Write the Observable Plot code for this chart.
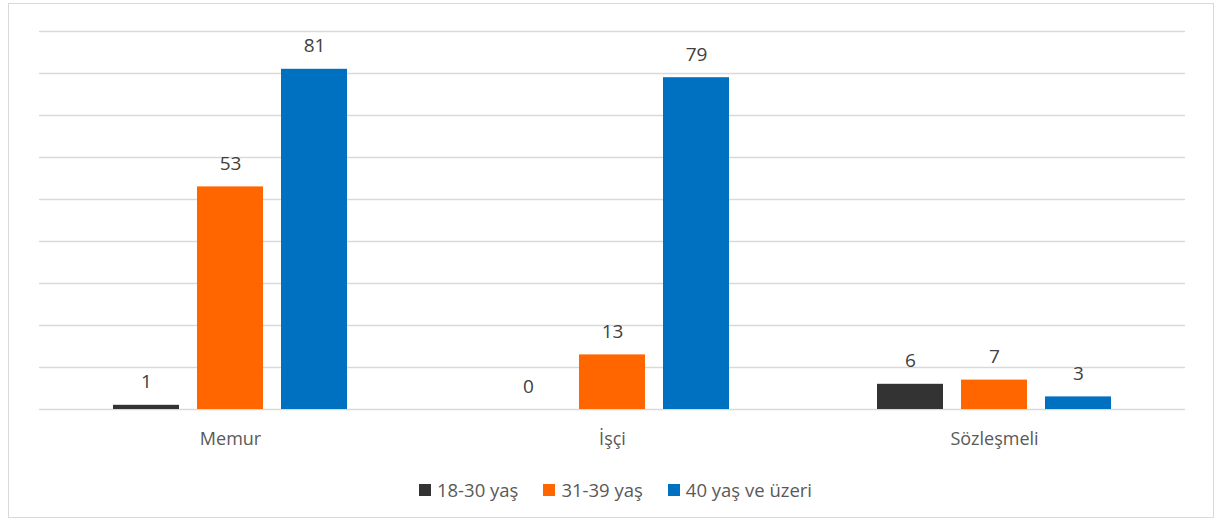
<!DOCTYPE html>
<html>
<head>
<meta charset="utf-8">
<script src="https://cdn.jsdelivr.net/npm/d3@7"></script>
<script src="https://cdn.jsdelivr.net/npm/@observablehq/plot@0.6"></script>
<style>
  html, body { margin: 0; padding: 0; background: #fff; }
  body { width: 1223px; height: 523px; position: relative; overflow: hidden; font-family: "Open Sans", sans-serif; }
  #frame { position: absolute; left: 8px; top: 3px; width: 1206px; height: 515px; border: 1.5px solid #d9d9d9; box-sizing: border-box; }
  #chart { position: absolute; left: 0; top: 0; }
  #legend { position: absolute; left: 4px; top: 477px; width: 1223px; display: flex; justify-content: center; font-size: 18.5px; line-height: 26px; color: #595959; }
  .item { display: flex; align-items: center; margin: 0 12.5px; }
  .sw { width: 12px; height: 12px; margin-right: 6px; display: inline-block; }
</style>
</head>
<body>
<div id="frame"></div>
<div id="chart"></div>
<div id="legend"></div>
<script>
const categories = ["Memur", "İşçi", "Sözleşmeli"];
const series = ["18-30 yaş", "31-39 yaş", "40 yaş ve üzeri"];
const v18_30 = [1, 0, 6];
const v31_39 = [53, 13, 7];
const v40plus = [81, 79, 3];
const colors = ["#333333", "#ff6600", "#0070c0"];
const yTicks = [0, 10, 20, 30, 40, 50, 60, 70, 80, 90];

const valuesBySeries = [v18_30, v31_39, v40plus];
const data = [];
categories.forEach((c, i) => {
  series.forEach((s, j) => {
    data.push({cat: c, series: s, value: valuesBySeries[j][i]});
  });
});

const chart = Plot.plot({
  width: 1223,
  height: 460,
  marginTop: 31,
  marginBottom: 51,
  marginLeft: 38,
  marginRight: 38,
  style: {fontFamily: "'Open Sans', sans-serif", background: "transparent"},
  fx: {domain: categories, padding: 0, label: null},
  x: {domain: series, paddingInner: 0.21, paddingOuter: 0.86, axis: null},
  y: {domain: [0, 90], axis: null},
  color: {domain: series, range: colors},
  marks: [
    Plot.ruleY(yTicks, {stroke: "#d9d9d9", strokeWidth: 1.5}),
    Plot.barY(data, {fx: "cat", x: "series", y: "value", fill: "series"}),
    Plot.text(data, {fx: "cat", x: "series", y: "value", text: d => String(d.value), dy: -23, fontSize: 19, fill: "#404040"}),
    Plot.axisFx({anchor: "bottom", tickSize: 0, tickPadding: 23, fontSize: 18, color: "#595959", label: null})
  ]
});
document.getElementById("chart").appendChild(chart);

const legend = document.getElementById("legend");
series.forEach((s, j) => {
  const item = document.createElement("div");
  item.className = "item";
  const sw = document.createElement("span");
  sw.className = "sw";
  sw.style.background = colors[j];
  item.appendChild(sw);
  item.appendChild(document.createTextNode(s));
  legend.appendChild(item);
});
</script>
</body>
</html>
